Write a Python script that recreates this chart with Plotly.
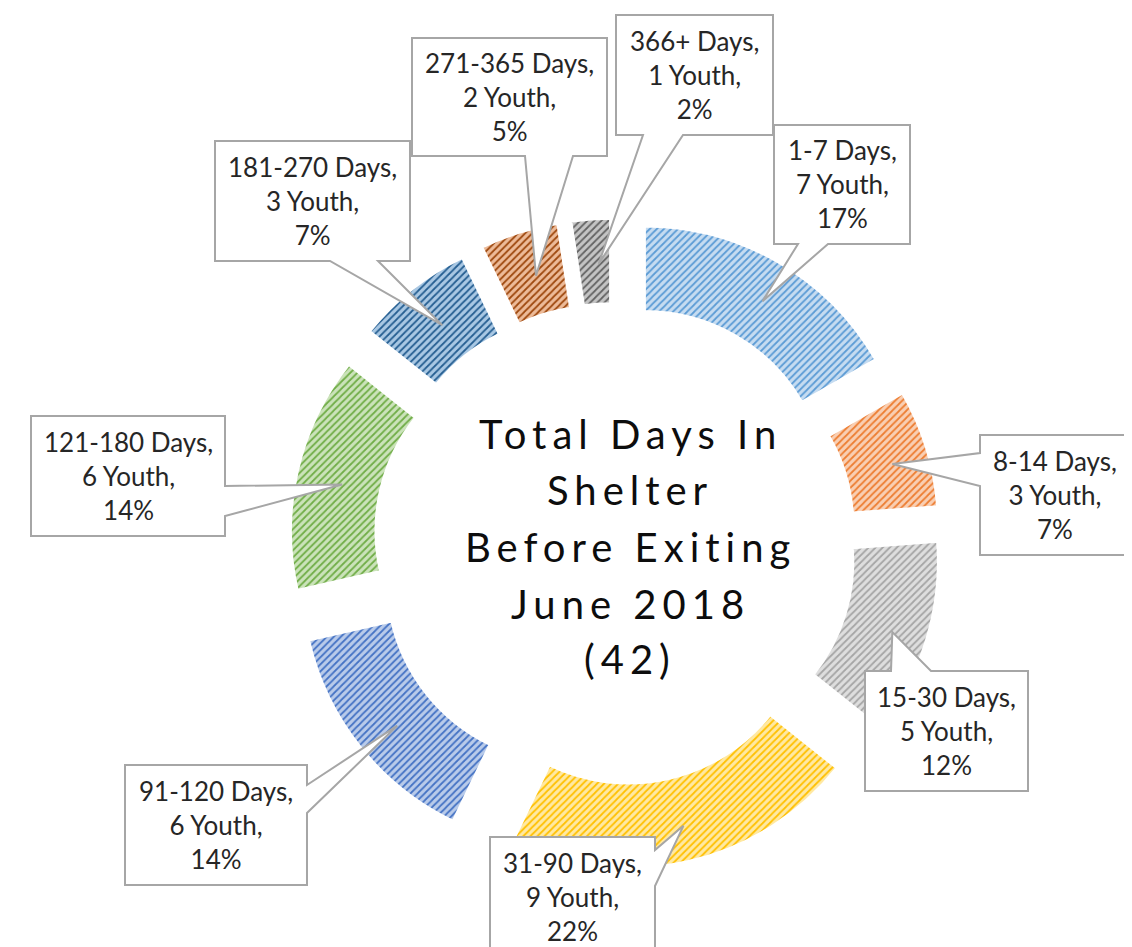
import math
import plotly.graph_objects as go

# ---------------- data ----------------
categories = ["1-7 Days", "8-14 Days", "15-30 Days", "31-90 Days", "91-120 Days",
              "121-180 Days", "181-270 Days", "271-365 Days", "366+ Days"]
youth = [7, 3, 5, 9, 6, 6, 3, 2, 1]
percent_labels = ["17%", "7%", "12%", "22%", "14%", "14%", "7%", "5%", "2%"]
title_lines = ["Total Days In", "Shelter", "Before Exiting", "June 2018", "(42)"]

# ---------------- styles ----------------
bg_colors = ["#C6DCF1", "#F9CFB3", "#DEDEDE", "#FFE9A3", "#B9CBEA",
             "#CBE3BA", "#A9C8E4", "#EDBB99", "#C4C4C4"]
fg_colors = ["#5B9BD5", "#ED7D31", "#A5A5A5", "#FFC000", "#4472C4",
             "#70AD47", "#255E91", "#9E480E", "#636363"]

W, H = 1132, 947
CX, CY = 607, 536          # pie centre (px)
PIE_BOX = 652              # square domain size (px)
PULL = 0.22
HOLE = 0.68
TIP_CX, TIP_CY = 612, 540  # reference point for callout tips (px)
R_TIP = 285                # radius of callout tips (px)

# callout boxes (px): x0, y0, x1, y1  and wedge attachment (edge, a, b)
boxes = [(766, 117, 902, 236), (972, 427, 1122, 547), (857, 663, 1020, 783),
         (482, 829, 647, 949), (117, 757, 299, 877), (23, 408, 217, 528),
         (207, 133, 402, 253), (404, 30, 599, 148), (608, 7, 765, 127)]
wedges = [("bottom", 790, 820), ("left", 445, 478), ("top", 883, 923),
          ("right", 842, 878), ("right", 777, 805), ("right", 478, 508),
          ("bottom", 322, 370), ("bottom", 517, 565), ("bottom", 635, 675)]
title_baselines = [447, 503, 560, 617, 672]   # px
title_cx = 622


def px(x):
    return x / W


def py(y):
    return 1 - y / H


fig = go.Figure()
fig.add_trace(go.Pie(
    labels=categories,
    values=youth,
    hole=HOLE,
    pull=[PULL] * len(youth),
    sort=False,
    direction="clockwise",
    rotation=0,
    textinfo="none",
    hoverinfo="label+value+percent",
    marker=dict(
        colors=bg_colors,
        line=dict(color="white", width=3),
        pattern=dict(shape="/", fgcolor=fg_colors, bgcolor=bg_colors,
                     size=5, solidity=0.35, fillmode="replace"),
    ),
    domain=dict(x=[px(CX - PIE_BOX / 2), px(CX + PIE_BOX / 2)],
                y=[py(CY + PIE_BOX / 2), py(CY - PIE_BOX / 2)]),
    showlegend=False,
))

# slice mid angles derived from the data
total = sum(youth)
cum = 0
tips = []
for v in youth:
    mid = (cum + v / 2) / total * 2 * math.pi
    cum += v
    tips.append((TIP_CX + R_TIP * math.sin(mid), TIP_CY - R_TIP * math.cos(mid)))

shapes = []
annotations = []
for i, ((x0, y0, x1, y1), (edge, a, b), (tx, ty)) in enumerate(zip(boxes, wedges, tips)):
    pts = [(x0, y0)]
    if edge == "top":
        pts += [(a, y0), (tx, ty), (b, y0)]
    pts.append((x1, y0))
    if edge == "right":
        pts += [(x1, a), (tx, ty), (x1, b)]
    pts.append((x1, y1))
    if edge == "bottom":
        pts += [(b, y1), (tx, ty), (a, y1)]
    pts.append((x0, y1))
    if edge == "left":
        pts += [(x0, b), (tx, ty), (x0, a)]
    path = "M " + " L ".join(f"{px(x):.5f},{py(y):.5f}" for x, y in pts) + " Z"
    shapes.append(dict(type="path", xref="paper", yref="paper", path=path,
                       fillcolor="white", line=dict(color="#A6A6A6", width=2),
                       layer="above"))
    text = f"{categories[i]},<br>{youth[i]} Youth,<br>{percent_labels[i]}"
    annotations.append(dict(x=px((x0 + x1) / 2), y=py((y0 + y1) / 2),
                            xref="paper", yref="paper", text=text,
                            showarrow=False, xanchor="center", yanchor="middle",
                            align="center",
                            font=dict(family="Lato", size=26, color="#262626")))

for t, yb in zip(title_lines, title_baselines):
    annotations.append(dict(x=px(title_cx), y=py(yb + 5), xref="paper", yref="paper",
                            text=f'<span style="letter-spacing:6px">{t}</span>',
                            showarrow=False, xanchor="center", yanchor="bottom",
                            align="center",
                            font=dict(family="Lato", size=40, color="#0D0D0D")))

fig.update_layout(
    width=W, height=H,
    margin=dict(l=0, r=0, t=0, b=0),
    paper_bgcolor="white",
    plot_bgcolor="white",
    shapes=shapes,
    annotations=annotations,
    showlegend=False,
)

fig.write_html("out.html")
